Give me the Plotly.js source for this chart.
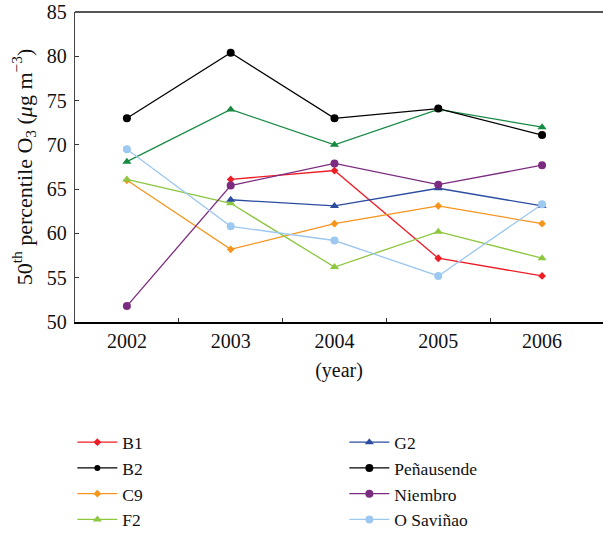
<!DOCTYPE html>
<html>
<head>
<meta charset="utf-8">
<script src="https://cdn.plot.ly/plotly-3.0.1.min.js"></script>
<style>html,body{margin:0;padding:0;background:#fff;}#chart{width:603px;height:535px;}</style>
</head>
<body>
<div id="chart"></div>
<script>
const years = [2002, 2003, 2004, 2005, 2006];
const halfYears = [2002.5, 2003.5, 2004.5, 2005.5];
const yTicks = [50, 55, 60, 65, 70, 75, 80, 85];

const B1 = [null, 66.1, 67.1, 57.2, 55.2];
const B2 = [68.1, 74.0, 70.0, 74.0, 72.0];
const C9 = [66.0, 58.2, 61.1, 63.1, 61.1];
const F2 = [66.1, 63.4, 56.2, 60.2, 57.2];
const G2 = [null, 63.8, 63.1, 65.1, 63.1];
const Penausende = [73.0, 80.4, 73.0, 74.1, 71.1];
const Niembro = [51.8, 65.4, 67.9, 65.5, 67.7];
const OSavinao = [69.5, 60.8, 59.2, 55.2, 63.3];
const noValues = [null, null, null, null, null];

function tr(name, y, color, symbol, size, rank, extra) {
  return Object.assign({
    type: 'scatter', mode: 'lines+markers', name: name, x: years, y: y,
    line: {color: color, width: 1.3},
    marker: {color: color, symbol: symbol, size: size},
    legendrank: rank, connectgaps: false
  }, extra || {});
}

const data = [
  tr('B1', B1, '#ee1c25', 'diamond', 6, 1),
  tr('B2', noValues, '#000000', 'circle', 6, 3),
  tr('B2', B2, '#178a43', 'triangle-up', 8, 100, {showlegend: false}),
  tr('C9', C9, '#f7941e', 'diamond', 6, 5),
  tr('F2', F2, '#8dc63f', 'triangle-up', 8, 7),
  tr('G2', G2, '#2b4c9f', 'triangle-up', 8, 2),
  tr('Peñausende', Penausende, '#000000', 'circle', 8, 4),
  tr('Niembro', Niembro, '#7b2c80', 'circle', 8, 6),
  tr('O Saviñao', OSavinao, '#9dc8ef', 'circle', 8, 8)
];

const fam = 'Liberation Serif, Times New Roman, serif';
const tickFont = {family: fam, size: 20, color: '#111'};
const legendFont = {family: fam, size: 17.5, color: '#111'};

const layout = {
  width: 603, height: 535,
  margin: {l: 75, r: 0, t: 12, b: 213, autoexpand: false},
  paper_bgcolor: '#fff', plot_bgcolor: '#fff',
  font: tickFont,
  showlegend: true,
  xaxis: {
    range: [2001.5, 2006.587],
    tickvals: years, ticktext: years.map(String),
    ticks: '', showgrid: false, zeroline: false,
    showline: true, linecolor: '#000', linewidth: 1.5,
    minor: {tickvals: halfYears, ticks: 'inside', ticklen: 4, tickcolor: '#333', showgrid: false},
    tickfont: tickFont,
    title: {text: '(year)', font: {family: fam, size: 20, color: '#111'}, standoff: 12}
  },
  yaxis: {
    range: [50, 85],
    tickvals: yTicks,
    ticks: 'inside', ticklen: 4, tickcolor: '#333',
    ticklabelstandoff: 3,
    showgrid: false, zeroline: false,
    showline: true, linecolor: '#444', linewidth: 1.3,
    tickfont: tickFont,
    title: {text: '50<sup>th</sup> percentile O<sub>3</sub> (<i>μ</i>g m<sup>−3</sup>)',
            font: {family: fam, size: 22, color: '#111'}, standoff: 8}
  },
  shapes: [{type: 'line', xref: 'paper', yref: 'paper', x0: 0, x1: 1, y0: 1, y1: 1,
            line: {color: '#555', width: 2}}],
  legend: {
    orientation: 'h', x: -0.005, xanchor: 'left', y: -0.33, yanchor: 'top',
    entrywidth: 217, entrywidthmode: 'pixels',
    font: legendFont, traceorder: 'normal', itemwidth: 40,
    bgcolor: 'rgba(0,0,0,0)'
  }
};

Plotly.newPlot('chart', data, layout, {displayModeBar: false, staticPlot: true});
</script>
</body>
</html>
